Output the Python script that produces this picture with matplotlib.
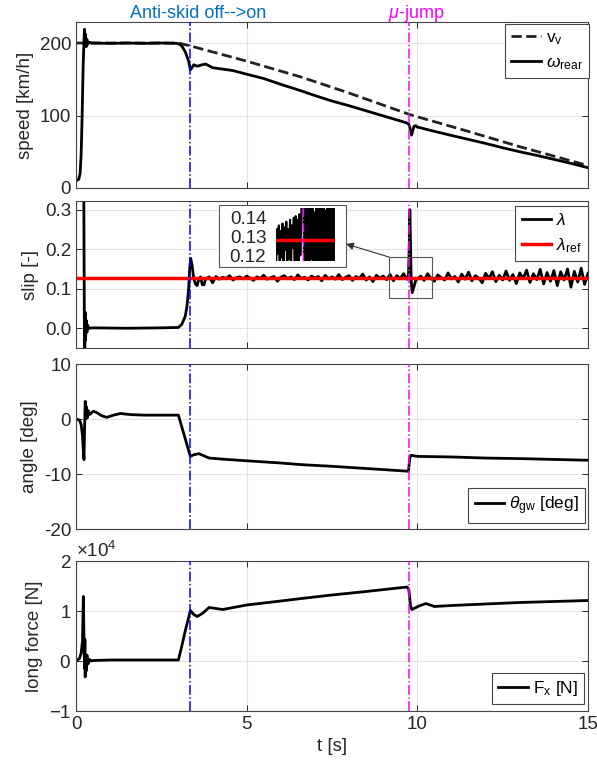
import numpy as np
import matplotlib
matplotlib.use("Agg")
import matplotlib.pyplot as plt
import matplotlib.transforms as mtransforms
from matplotlib.patches import Rectangle

plt.rcParams["font.family"] = ["Liberation Sans", "DejaVu Sans"]
plt.rcParams["mathtext.fontset"] = "custom"
plt.rcParams["mathtext.rm"] = "Liberation Sans"
plt.rcParams["mathtext.it"] = "Liberation Sans:italic"
plt.rcParams["axes.unicode_minus"] = False

# event times
t_on = 3.33
t_mu = 9.76

# speed signals [km/h]
t_vv = [0, 3.0, 3.35, 5.0, 6.6, 8.0, 9.8, 11.5, 13.0, 15.0]
v_vehicle = [200, 200, 196, 175, 153, 131, 101, 78, 57, 31]

t_w = [0, 0.08, 0.12, 0.15, 0.18, 0.21, 0.24, 0.25, 0.27, 0.28, 0.30, 0.32,
       0.34, 0.38, 0.45, 1.0, 1.5, 2.0, 2.5, 2.95, 3.0, 3.1, 3.2, 3.3, 3.35,
       3.4, 3.45, 3.55, 3.7, 3.8, 4.0, 4.3, 4.6, 5.0, 5.5, 6.0, 6.6, 7.0, 7.5,
       8.0, 8.5, 9.0, 9.5, 9.7, 9.75, 9.8, 9.83, 9.86, 9.9, 9.95, 10.0, 10.1,
       10.3, 10.6, 11.0, 11.5, 12.0, 12.5, 13.0, 13.5, 14.0, 14.5, 15.0]
w_rear = [10, 12, 20, 45, 100, 170, 210, 219, 200, 212, 195, 205,
          198, 201, 200, 199.5, 200, 199.5, 200, 199.5, 199, 196, 188, 175, 163,
          166, 170, 168, 170, 171, 166, 164, 162, 157, 151, 143, 134, 127.5, 120,
          113.5, 106.5, 99.5, 92.5, 89.6, 88, 80, 73, 78, 85, 86, 84, 83,
          80.5, 77, 72.5, 67, 61.5, 55.5, 50, 45, 39.5, 34, 28]

# slip
lam_ref = 0.128
t_lam_start = [0, 0.2, 0.22, 0.24, 0.25, 0.26, 0.27, 0.28, 0.30, 0.32, 0.34,
               0.37, 0.5, 1.5, 2.5, 3.0, 3.1, 3.2, 3.25, 3.3, 3.33, 3.36,
               3.4, 3.45, 3.5, 3.55, 3.6, 3.65, 3.7, 3.75, 3.8, 3.9, 4.0]
lam_start = [0.95, 0.9, 0.5, 0.1, -0.09, -0.06, 0.04, -0.03, 0.02, -0.01, 0.008,
             0.0, 0.001, 0.0, 0.001, 0.002, 0.01, 0.03, 0.055, 0.1, 0.15, 0.177,
             0.16, 0.125, 0.112, 0.108, 0.125, 0.13, 0.11, 0.11, 0.125, 0.13, 0.115]
# 4.1 .. 9.7 s every 0.1 s
lam_mid = [0.131, 0.124, 0.129, 0.126, 0.133, 0.122, 0.128, 0.130, 0.125, 0.132,
           0.127, 0.121, 0.130, 0.126, 0.134, 0.124, 0.128, 0.131, 0.119, 0.129,
           0.133, 0.125, 0.130, 0.123, 0.135, 0.126, 0.129, 0.122, 0.132, 0.127,
           0.131, 0.120, 0.134, 0.125, 0.130, 0.124, 0.136, 0.123, 0.129, 0.133,
           0.121, 0.131, 0.126, 0.137, 0.122, 0.130, 0.118, 0.134, 0.127, 0.132,
           0.123, 0.136, 0.120, 0.133, 0.126, 0.138, 0.124]
t_lam_spike = [9.74, 9.76, 9.78, 9.80, 9.82, 9.85, 9.90, 9.95, 10.0]
lam_spike = [0.13, 0.2, 0.3, 0.22, 0.12, 0.09, 0.105, 0.12, 0.125]
# 10.1 .. 15.0 s every 0.1 s
lam_end = [0.132, 0.121, 0.138, 0.126, 0.119, 0.135, 0.128, 0.122, 0.140, 0.125,
           0.131, 0.117, 0.137, 0.124, 0.142, 0.120, 0.133, 0.127, 0.115, 0.139,
           0.126, 0.143, 0.118, 0.134, 0.122, 0.145, 0.121, 0.136, 0.113, 0.140,
           0.125, 0.147, 0.116, 0.138, 0.123, 0.149, 0.112, 0.141, 0.119, 0.146,
           0.108, 0.143, 0.122, 0.150, 0.104, 0.144, 0.117, 0.152, 0.111, 0.139]
# fine-sampled slip around the mu-jump, 9.18 .. 10.44 s every 0.02 s
lam_zoom = [0.110, 0.134, 0.121, 0.136, 0.108, 0.133, 0.119, 0.137, 0.112, 0.135,
            0.123, 0.138, 0.109, 0.134, 0.118, 0.139, 0.111, 0.136, 0.124, 0.140,
            0.107, 0.141, 0.115, 0.139, 0.113, 0.142, 0.120, 0.138, 0.300, 0.220,
            0.090, 0.146, 0.105, 0.150, 0.112, 0.147, 0.101, 0.152, 0.118, 0.149,
            0.106, 0.143, 0.110, 0.151, 0.103, 0.148, 0.116, 0.154, 0.099, 0.146,
            0.109, 0.150, 0.114, 0.144, 0.102, 0.153, 0.107, 0.149, 0.113, 0.147,
            0.100, 0.152, 0.111, 0.148]

# ground-wheel angle [deg]
t_th = [0, 0.1, 0.15, 0.19, 0.22, 0.235, 0.25, 0.27, 0.29, 0.31, 0.33, 0.36,
        0.4, 0.5, 0.6, 0.75, 0.9, 1.1, 1.3, 1.6, 2.0, 2.5, 3.0, 3.35, 3.45,
        3.6, 3.9, 4.3, 5.0, 6.0, 6.6, 7.5, 8.5, 9.0, 9.74, 9.78, 9.82, 10.0,
        11.0, 12.0, 13.0, 14.0, 15.0]
theta = [0, -0.2, -1.0, -3.0, -6.5, -7.4, -2.0, 3.2, 0.0, 2.2, 0.2, 1.5,
         0.8, 1.4, 1.2, 0.6, 0.3, 0.7, 1.0, 0.8, 0.7, 0.7, 0.7, -6.8, -6.5,
         -6.3, -7.1, -7.3, -7.6, -8.0, -8.3, -8.6, -9.0, -9.2, -9.5, -7.0, -6.6, -6.8,
         -6.9, -7.1, -7.2, -7.35, -7.5]

# longitudinal force [N]
t_f = [0, 0.1, 0.15, 0.19, 0.215, 0.235, 0.25, 0.26, 0.27, 0.28, 0.30, 0.32,
       0.35, 0.40, 0.45, 0.5, 1.0, 2.0, 3.0, 3.1, 3.2, 3.3, 3.35, 3.45, 3.55,
       3.7, 3.9, 4.1, 4.3, 5.0, 6.0, 6.6, 7.5, 8.5, 9.7, 9.75, 9.8, 9.84, 9.9,
       10.05, 10.25, 10.5, 11.0, 12.0, 13.0, 14.0, 15.0]
force = [0, 500, 1500, 4000, 12900, 4000, -1500, 4300, -3200, 1000, -2000, 1200,
         -600, 300, 0, 100, 200, 200, 200, 3000, 6000, 8700, 10100, 9300, 8900,
         9500, 10700, 10500, 10300, 11200, 12000, 12500, 13200, 13900, 14800, 14300,
         11000, 10300, 10500, 11000, 11500, 10900, 11100, 11400, 11700, 11900, 12100]

t_mid = np.round(np.arange(4.1, 9.75, 0.1), 2)
t_end = np.round(np.arange(10.1, 15.05, 0.1), 2)
t_lam = np.concatenate([t_lam_start, t_mid, t_lam_spike, t_end])
lam = np.concatenate([lam_start, lam_mid, lam_spike, lam_end])
t_zoom = np.round(np.arange(9.18, 10.45, 0.02), 2)[:len(lam_zoom)]

W, H = 597, 775
fig = plt.figure(figsize=(W / 100, H / 100), dpi=100)


def px_axes(top, bottom, left=76, right=588):
    return fig.add_axes([left / W, 1 - bottom / H, (right - left) / W, (bottom - top) / H])


def style(ax):
    ax.set_xlim(0, 15)
    ax.grid(True, color="#e3e3e3", lw=0.8)
    ax.set_axisbelow(True)
    ax.tick_params(direction="in", top=True, right=True, labelsize=13.5,
                   colors="#262626", length=4, width=0.7)
    for s in ax.spines.values():
        s.set_color("#444444")
        s.set_linewidth(0.8)
    ax.set_xticks([0, 5, 10, 15])
    ax.axvline(t_on, color="blue", ls="-.", lw=1.1, zorder=3)
    ax.axvline(t_mu, color="magenta", ls="-.", lw=1.1, zorder=3)


def legend(ax, handles, labels, loc, x, y):
    lg = ax.legend(handles, labels, loc=loc, bbox_to_anchor=(x / W, 1 - y / H),
                   bbox_transform=fig.transFigure, borderaxespad=0, fontsize=12.5,
                   handlelength=1.7, handletextpad=0.3, fancybox=False,
                   framealpha=1, edgecolor="#444444", borderpad=0.35, labelspacing=0.45)
    lg.get_frame().set_linewidth(0.8)


ax1 = px_axes(22, 188)
ax2 = px_axes(201, 348)
ax3 = px_axes(364, 529)
ax4 = px_axes(561, 711)

# speed
style(ax1)
h_v, = ax1.plot(t_vv, v_vehicle, color="#222222", ls="--", lw=2)
h_w, = ax1.plot(t_w, w_rear, color="black", lw=2)
ax1.set_ylim(0, 229)
ax1.set_yticks([0, 100, 200])
ax1.set_xticklabels([])
ax1.set_ylabel("speed [km/h]", fontsize=13.5, color="#262626")
legend(ax1, [h_v, h_w], [r"$\mathrm{v}_\mathrm{v}$", r"$\omega_\mathrm{rear}$"],
       "upper right", 589, 24)

# event labels above the top panel
top_row = mtransforms.blended_transform_factory(ax1.transData, fig.transFigure)
ax1.text(t_on + 0.25, 1 - 13 / H, "Anti-skid off-->on", transform=top_row,
         fontsize=13, color="#0072BD", ha="center", va="center")
ax1.text(t_mu + 0.2, 1 - 13 / H, r"$\mu$-jump", transform=top_row,
         fontsize=13, color="magenta", ha="center", va="center")

# slip
style(ax2)
h_l, = ax2.plot(t_lam, lam, color="black", lw=2)
h_r = ax2.axhline(lam_ref, color="red", lw=2.5, zorder=2.5)
ax2.set_ylim(-0.05, 0.322)
ax2.set_yticks([0, 0.1, 0.2, 0.3])
ax2.set_xticklabels([])
ax2.set_ylabel("slip [-]", fontsize=13.5, color="#262626")
legend(ax2, [h_l, h_r], [r"$\lambda$", r"$\lambda_\mathrm{ref}$"], "upper right", 588, 206)
zx0, zx1, zy0, zy1 = 9.18, 10.44, 0.076, 0.18
ax2.add_patch(Rectangle((zx0, zy0), zx1 - zx0, zy1 - zy0, fill=False,
                        ec="#555555", lw=0.8, zorder=4))
ax2.annotate("", xy=(346 / W, 1 - 244 / H), xycoords="figure fraction",
             xytext=(zx0, zy1), textcoords="data",
             arrowprops=dict(arrowstyle="-|>", color="#333333", lw=0.8,
                             shrinkA=0, shrinkB=0, mutation_scale=11))

# zoomed view of the slip around the mu-jump
box = Rectangle((219 / W, 1 - 267 / H), 127 / W, 62 / H, transform=fig.transFigure,
                fc="white", ec="#555555", lw=0.8, zorder=2)
fig.add_artist(box)
ins = px_axes(208, 261, left=276, right=335)
ins.set_zorder(3)
ins.plot(t_zoom, lam_zoom, color="black", lw=1.5)
ins.axhline(lam_ref, color="red", lw=2.5)
ins.axvline(t_mu, color="magenta", ls="-.", lw=1)
ins.set_xlim(zx0, zx1)
ins.set_ylim(0.117, 0.1453)
ins.set_yticks([0.12, 0.13, 0.14])
ins.set_yticklabels(["0.12", "0.13", "0.14"])
ins.set_xticks([])
ins.tick_params(length=0, labelsize=13.5, colors="#262626", pad=7)
for s in ins.spines.values():
    s.set_visible(False)

# angle
style(ax3)
h_t, = ax3.plot(t_th, theta, color="black", lw=2)
ax3.set_ylim(-20, 10)
ax3.set_yticks([-20, -10, 0, 10])
ax3.set_xticklabels([])
ax3.set_ylabel("angle [deg]", fontsize=13.5, color="#262626")
legend(ax3, [h_t], [r"$\theta_\mathrm{gw}$ [deg]"], "lower right", 585, 523)

# force
style(ax4)
h_f, = ax4.plot(t_f, force, color="black", lw=2)
ax4.set_ylim(-1e4, 2e4)
ax4.set_yticks([-1e4, 0, 1e4, 2e4])
ax4.ticklabel_format(axis="y", style="sci", scilimits=(0, 0), useMathText=True)
ax4.yaxis.get_offset_text().set_fontsize(13.5)
ax4.yaxis.get_offset_text().set_color("#262626")
ax4.set_ylabel("long force [N]", fontsize=13.5, color="#262626")
ax4.set_xlabel("t [s]", fontsize=13.5, color="#262626")
legend(ax4, [h_f], [r"$\mathrm{F}_\mathrm{x}$ [N]"], "lower right", 584, 704)

fig.savefig("out.png", dpi=100)
